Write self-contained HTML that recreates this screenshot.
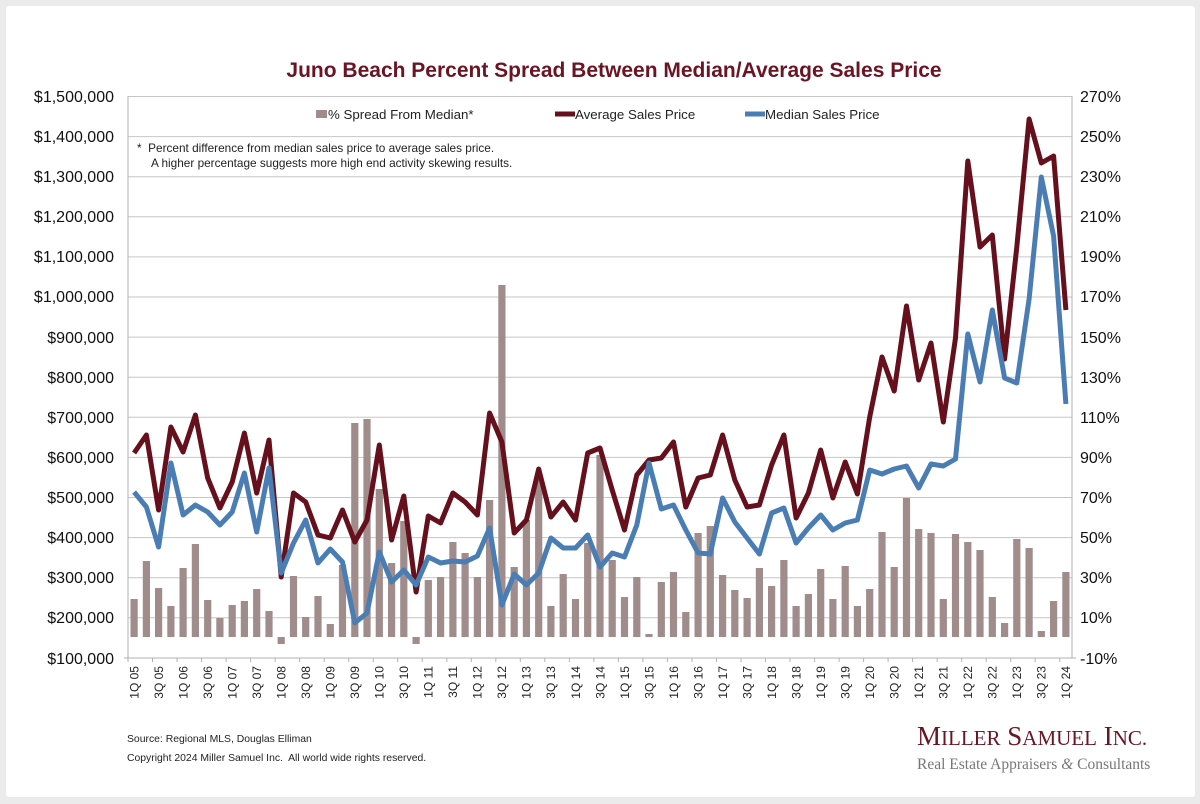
<!DOCTYPE html>
<html><head><meta charset="utf-8"><style>
html,body{margin:0;padding:0;background:#ebebeb;}
svg{display:block;font-family:"Liberation Sans",Arial,sans-serif;}
</style></head><body>
<svg width="1200" height="804" viewBox="0 0 1200 804" xmlns="http://www.w3.org/2000/svg">
<rect x="0" y="0" width="1200" height="804" fill="#ebebeb"/>
<rect x="6" y="6" width="1189" height="791" rx="3" fill="#ffffff"/>
<text x="614" y="77" text-anchor="middle" font-size="21" font-weight="bold" fill="#6b1424">Juno Beach Percent Spread Between Median/Average Sales Price</text>
<g stroke="#c6c6c6" stroke-width="1">
<line x1="128" y1="96.5" x2="1072" y2="96.5"/><line x1="128" y1="136.6" x2="1072" y2="136.6"/><line x1="128" y1="176.7" x2="1072" y2="176.7"/><line x1="128" y1="216.8" x2="1072" y2="216.8"/><line x1="128" y1="256.9" x2="1072" y2="256.9"/><line x1="128" y1="297" x2="1072" y2="297"/><line x1="128" y1="337.1" x2="1072" y2="337.1"/><line x1="128" y1="377.2" x2="1072" y2="377.2"/><line x1="128" y1="417.3" x2="1072" y2="417.3"/><line x1="128" y1="457.4" x2="1072" y2="457.4"/><line x1="128" y1="497.5" x2="1072" y2="497.5"/><line x1="128" y1="537.6" x2="1072" y2="537.6"/><line x1="128" y1="577.7" x2="1072" y2="577.7"/><line x1="128" y1="617.8" x2="1072" y2="617.8"/>
</g>
<g stroke="#b0b0b0" stroke-width="1"><line x1="128" y1="96" x2="128" y2="658"/><line x1="1072" y1="96" x2="1072" y2="658"/><line x1="124" y1="658" x2="1076" y2="658"/></g>
<g font-size="16" fill="#111" text-anchor="end">
<text x="114" y="102">$1,500,000</text><text x="114" y="142">$1,400,000</text><text x="114" y="182">$1,300,000</text><text x="114" y="222">$1,200,000</text><text x="114" y="262">$1,100,000</text><text x="114" y="302">$1,000,000</text><text x="114" y="343">$900,000</text><text x="114" y="383">$800,000</text><text x="114" y="423">$700,000</text><text x="114" y="463">$600,000</text><text x="114" y="503">$500,000</text><text x="114" y="543">$400,000</text><text x="114" y="583">$300,000</text><text x="114" y="623">$200,000</text><text x="114" y="664">$100,000</text>
</g>
<g font-size="16" fill="#111">
<text x="1080" y="102">270%</text><text x="1080" y="142">250%</text><text x="1080" y="182">230%</text><text x="1080" y="222">210%</text><text x="1080" y="262">190%</text><text x="1080" y="302">170%</text><text x="1080" y="343">150%</text><text x="1080" y="383">130%</text><text x="1080" y="423">110%</text><text x="1080" y="463">90%</text><text x="1080" y="503">70%</text><text x="1080" y="543">50%</text><text x="1080" y="583">30%</text><text x="1080" y="623">10%</text><text x="1080" y="664">-10%</text>
</g>
<g fill="#a08c8b">
<rect x="130.5" y="599" width="7.2" height="38"/><rect x="142.8" y="561" width="7.2" height="76"/><rect x="155" y="588" width="7.2" height="49"/><rect x="167.3" y="606" width="7.2" height="31"/><rect x="179.5" y="568" width="7.2" height="69"/><rect x="191.8" y="544" width="7.2" height="93"/><rect x="204.1" y="600" width="7.2" height="37"/><rect x="216.3" y="618" width="7.2" height="19"/><rect x="228.6" y="605" width="7.2" height="32"/><rect x="240.8" y="601" width="7.2" height="36"/><rect x="253.1" y="589" width="7.2" height="48"/><rect x="265.4" y="611" width="7.2" height="26"/><rect x="277.6" y="637" width="7.2" height="7"/><rect x="289.9" y="576" width="7.2" height="61"/><rect x="302.1" y="617" width="7.2" height="20"/><rect x="314.4" y="596" width="7.2" height="41"/><rect x="326.7" y="624" width="7.2" height="13"/><rect x="338.9" y="565" width="7.2" height="72"/><rect x="351.2" y="423" width="7.2" height="214"/><rect x="363.4" y="419" width="7.2" height="218"/>
<rect x="375.7" y="489" width="7.2" height="148"/><rect x="388" y="563" width="7.2" height="74"/><rect x="400.2" y="521" width="7.2" height="116"/><rect x="412.5" y="637" width="7.2" height="7"/><rect x="424.7" y="580" width="7.2" height="57"/><rect x="437" y="577" width="7.2" height="60"/><rect x="449.3" y="542" width="7.2" height="95"/><rect x="461.5" y="553" width="7.2" height="84"/><rect x="473.8" y="577" width="7.2" height="60"/><rect x="486" y="500" width="7.2" height="137"/><rect x="498.3" y="285" width="7.2" height="352"/><rect x="510.6" y="567" width="7.2" height="70"/><rect x="522.8" y="520" width="7.2" height="117"/><rect x="535.1" y="480" width="7.2" height="157"/><rect x="547.3" y="606" width="7.2" height="31"/><rect x="559.6" y="574" width="7.2" height="63"/><rect x="571.9" y="599" width="7.2" height="38"/><rect x="584.1" y="543" width="7.2" height="94"/><rect x="596.4" y="455" width="7.2" height="182"/>
<rect x="608.6" y="560" width="7.2" height="77"/><rect x="620.9" y="597" width="7.2" height="40"/><rect x="633.2" y="577" width="7.2" height="60"/><rect x="645.4" y="634" width="7.2" height="3"/><rect x="657.7" y="582" width="7.2" height="55"/><rect x="669.9" y="572" width="7.2" height="65"/><rect x="682.2" y="612" width="7.2" height="25"/><rect x="694.5" y="533" width="7.2" height="104"/><rect x="706.7" y="526" width="7.2" height="111"/><rect x="719" y="575" width="7.2" height="62"/><rect x="731.2" y="590" width="7.2" height="47"/><rect x="743.5" y="598" width="7.2" height="39"/><rect x="755.8" y="568" width="7.2" height="69"/><rect x="768" y="586" width="7.2" height="51"/><rect x="780.3" y="560" width="7.2" height="77"/><rect x="792.5" y="606" width="7.2" height="31"/><rect x="804.8" y="594" width="7.2" height="43"/><rect x="817.1" y="569" width="7.2" height="68"/><rect x="829.3" y="599" width="7.2" height="38"/><rect x="841.6" y="566" width="7.2" height="71"/>
<rect x="853.8" y="606" width="7.2" height="31"/><rect x="866.1" y="589" width="7.2" height="48"/><rect x="878.4" y="532" width="7.2" height="105"/><rect x="890.6" y="567" width="7.2" height="70"/><rect x="902.9" y="498" width="7.2" height="139"/><rect x="915.1" y="529" width="7.2" height="108"/><rect x="927.4" y="533" width="7.2" height="104"/><rect x="939.7" y="599" width="7.2" height="38"/><rect x="951.9" y="534" width="7.2" height="103"/><rect x="964.2" y="542" width="7.2" height="95"/><rect x="976.4" y="550" width="7.2" height="87"/><rect x="988.7" y="597" width="7.2" height="40"/><rect x="1001" y="623" width="7.2" height="14"/><rect x="1013.2" y="539" width="7.2" height="98"/><rect x="1025.5" y="548" width="7.2" height="89"/><rect x="1037.7" y="631" width="7.2" height="6"/><rect x="1050" y="601" width="7.2" height="36"/><rect x="1062.3" y="572" width="7.2" height="65"/>
</g>
<polyline fill="none" stroke="#65101c" stroke-width="5" stroke-linejoin="round" points="134.1,453 146.4,435 158.6,510 170.9,427 183.1,452 195.4,415 207.7,478 219.9,508 232.2,482 244.4,433 256.7,493 269,440 281.2,577 293.5,493 305.7,502 318,535 330.3,538 342.5,510 354.8,542 367,520 379.3,445 391.6,540 403.8,496 416.1,592 428.3,516 440.6,523 452.9,493 465.1,502 477.4,515 489.6,413 501.9,442 514.2,533 526.4,520 538.7,469 550.9,517 563.2,502 575.5,520 587.7,453 600,448 612.2,490 624.5,530 636.8,475 649,460 661.3,458 673.5,442 685.8,507 698.1,478 710.3,475 722.6,435 734.8,480 747.1,507 759.4,505 771.6,465 783.9,435 796.1,518 808.4,493 820.7,450 832.9,498 845.2,462 857.4,494 869.7,417 882,357 894.2,391 906.5,306 918.7,380 931,343 943.3,422 955.5,338 967.8,161 980,247 992.3,235 1004.6,359 1016.8,247 1029.1,119 1041.3,163 1053.6,156 1065.9,310"/>
<polyline fill="none" stroke="#4a7db3" stroke-width="5" stroke-linejoin="round" points="134.1,492 146.4,507 158.6,547 170.9,463 183.1,515 195.4,505 207.7,512 219.9,525 232.2,512 244.4,473 256.7,532 269,468 281.2,573 293.5,543 305.7,520 318,563 330.3,549 342.5,562 354.8,623 367,613 379.3,552 391.6,582 403.8,570 416.1,585 428.3,557 440.6,563 452.9,561 465.1,562 477.4,556 489.6,528 501.9,605 514.2,574 526.4,585 538.7,573 550.9,538 563.2,548 575.5,548 587.7,535 600,567 612.2,553 624.5,557 636.8,525 649,463 661.3,509 673.5,505 685.8,530 698.1,553 710.3,554 722.6,498 734.8,522 747.1,538 759.4,554 771.6,513 783.9,508 796.1,543 808.4,528 820.7,515 832.9,530 845.2,523 857.4,520 869.7,470 882,474 894.2,469 906.5,466 918.7,488 931,464 943.3,466 955.5,459 967.8,334 980,382 992.3,310 1004.6,378 1016.8,383 1029.1,299 1041.3,177 1053.6,236 1065.9,404"/>
<g stroke="#b0b0b0" stroke-width="1">
<line x1="128" y1="658" x2="128" y2="662"/><line x1="152.5" y1="658" x2="152.5" y2="662"/><line x1="177" y1="658" x2="177" y2="662"/><line x1="201.6" y1="658" x2="201.6" y2="662"/><line x1="226.1" y1="658" x2="226.1" y2="662"/><line x1="250.6" y1="658" x2="250.6" y2="662"/><line x1="275.1" y1="658" x2="275.1" y2="662"/><line x1="299.6" y1="658" x2="299.6" y2="662"/><line x1="324.2" y1="658" x2="324.2" y2="662"/><line x1="348.7" y1="658" x2="348.7" y2="662"/><line x1="373.2" y1="658" x2="373.2" y2="662"/><line x1="397.7" y1="658" x2="397.7" y2="662"/><line x1="422.2" y1="658" x2="422.2" y2="662"/><line x1="446.8" y1="658" x2="446.8" y2="662"/><line x1="471.3" y1="658" x2="471.3" y2="662"/><line x1="495.8" y1="658" x2="495.8" y2="662"/><line x1="520.3" y1="658" x2="520.3" y2="662"/><line x1="544.8" y1="658" x2="544.8" y2="662"/><line x1="569.4" y1="658" x2="569.4" y2="662"/><line x1="593.9" y1="658" x2="593.9" y2="662"/><line x1="618.4" y1="658" x2="618.4" y2="662"/><line x1="642.9" y1="658" x2="642.9" y2="662"/><line x1="667.4" y1="658" x2="667.4" y2="662"/><line x1="692" y1="658" x2="692" y2="662"/><line x1="716.5" y1="658" x2="716.5" y2="662"/><line x1="741" y1="658" x2="741" y2="662"/><line x1="765.5" y1="658" x2="765.5" y2="662"/><line x1="790" y1="658" x2="790" y2="662"/><line x1="814.6" y1="658" x2="814.6" y2="662"/><line x1="839.1" y1="658" x2="839.1" y2="662"/><line x1="863.6" y1="658" x2="863.6" y2="662"/><line x1="888.1" y1="658" x2="888.1" y2="662"/><line x1="912.6" y1="658" x2="912.6" y2="662"/><line x1="937.2" y1="658" x2="937.2" y2="662"/><line x1="961.7" y1="658" x2="961.7" y2="662"/><line x1="986.2" y1="658" x2="986.2" y2="662"/><line x1="1010.7" y1="658" x2="1010.7" y2="662"/><line x1="1035.2" y1="658" x2="1035.2" y2="662"/><line x1="1059.8" y1="658" x2="1059.8" y2="662"/>
</g>
<g font-size="12" fill="#222" text-anchor="end">
<text transform="translate(138.4,666) rotate(-90)">1Q 05</text><text transform="translate(162.9,666) rotate(-90)">3Q 05</text><text transform="translate(187.4,666) rotate(-90)">1Q 06</text><text transform="translate(212,666) rotate(-90)">3Q 06</text><text transform="translate(236.5,666) rotate(-90)">1Q 07</text><text transform="translate(261,666) rotate(-90)">3Q 07</text><text transform="translate(285.5,666) rotate(-90)">1Q 08</text><text transform="translate(310,666) rotate(-90)">3Q 08</text><text transform="translate(334.6,666) rotate(-90)">1Q 09</text><text transform="translate(359.1,666) rotate(-90)">3Q 09</text><text transform="translate(383.6,666) rotate(-90)">1Q 10</text><text transform="translate(408.1,666) rotate(-90)">3Q 10</text><text transform="translate(432.6,666) rotate(-90)">1Q 11</text><text transform="translate(457.2,666) rotate(-90)">3Q 11</text><text transform="translate(481.7,666) rotate(-90)">1Q 12</text><text transform="translate(506.2,666) rotate(-90)">3Q 12</text><text transform="translate(530.7,666) rotate(-90)">1Q 13</text><text transform="translate(555.2,666) rotate(-90)">3Q 13</text><text transform="translate(579.8,666) rotate(-90)">1Q 14</text><text transform="translate(604.3,666) rotate(-90)">3Q 14</text><text transform="translate(628.8,666) rotate(-90)">1Q 15</text><text transform="translate(653.3,666) rotate(-90)">3Q 15</text><text transform="translate(677.8,666) rotate(-90)">1Q 16</text><text transform="translate(702.4,666) rotate(-90)">3Q 16</text><text transform="translate(726.9,666) rotate(-90)">1Q 17</text><text transform="translate(751.4,666) rotate(-90)">3Q 17</text><text transform="translate(775.9,666) rotate(-90)">1Q 18</text><text transform="translate(800.4,666) rotate(-90)">3Q 18</text><text transform="translate(825,666) rotate(-90)">1Q 19</text><text transform="translate(849.5,666) rotate(-90)">3Q 19</text><text transform="translate(874,666) rotate(-90)">1Q 20</text><text transform="translate(898.5,666) rotate(-90)">3Q 20</text><text transform="translate(923,666) rotate(-90)">1Q 21</text><text transform="translate(947.6,666) rotate(-90)">3Q 21</text><text transform="translate(972.1,666) rotate(-90)">1Q 22</text><text transform="translate(996.6,666) rotate(-90)">3Q 22</text><text transform="translate(1021.1,666) rotate(-90)">1Q 23</text><text transform="translate(1045.6,666) rotate(-90)">3Q 23</text><text transform="translate(1070.2,666) rotate(-90)">1Q 24</text>
</g>
<rect x="316" y="110" width="11" height="8" fill="#a08c8b"/>
<text x="328" y="119" font-size="13.3" fill="#222">% Spread From Median*</text>
<line x1="555" y1="114" x2="575" y2="114" stroke="#65101c" stroke-width="5"/>
<text x="575" y="119" font-size="13.3" fill="#222">Average Sales Price</text>
<line x1="745" y1="114" x2="765" y2="114" stroke="#4a7db3" stroke-width="5"/>
<text x="765" y="119" font-size="13.3" fill="#222">Median Sales Price</text>
<text x="137" y="152" font-size="11.8" fill="#222" xml:space="preserve">*  Percent difference from median sales price to average sales price.</text>
<text x="151" y="167" font-size="11.8" fill="#222">A higher percentage suggests more high end activity skewing results.</text>
<text x="127" y="742" font-size="10.4" fill="#222">Source: Regional MLS, Douglas Elliman</text>
<text x="127" y="761" font-size="10.4" fill="#222" xml:space="preserve">Copyright 2024 Miller Samuel Inc.  All world wide rights reserved.</text>
<text x="917" y="745" font-family="'Liberation Serif',serif" font-size="27" fill="#6b1424">M<tspan font-size="21">ILLER</tspan> S<tspan font-size="21">AMUEL</tspan> I<tspan font-size="21">NC.</tspan></text>
<text x="917" y="769" font-family="'Liberation Serif',serif" font-size="15.5" fill="#777">Real Estate Appraisers <tspan font-style="italic">&amp;</tspan> Consultants</text>
</svg>
</body></html>
